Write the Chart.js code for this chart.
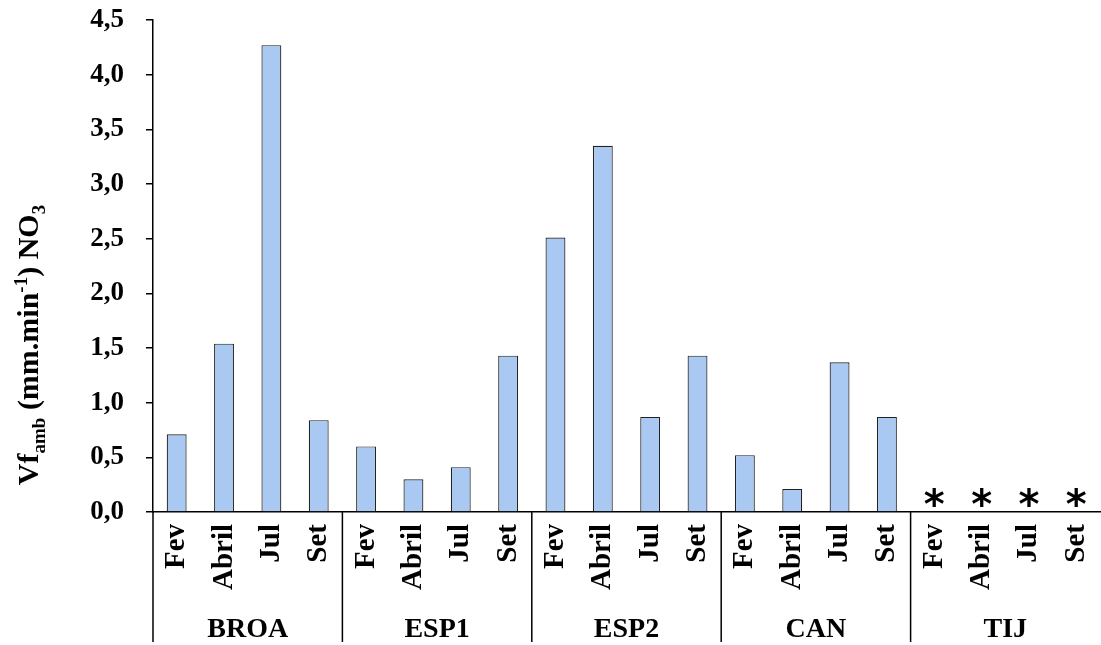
<!DOCTYPE html>
<html>
<head>
<meta charset="utf-8">
<script src="https://cdn.jsdelivr.net/npm/chart.js@4/dist/chart.umd.min.js"></script>
<style>
  html, body { margin: 0; padding: 0; background: #fff; }
  #wrap { width: 1101px; height: 645px; position: relative; }
</style>
</head>
<body>
<div id="wrap"><canvas id="vfChart"></canvas></div>
<script>
// data
const sites = ['BROA', 'ESP1', 'ESP2', 'CAN', 'TIJ'];
const months = ['Fev', 'Abril', 'Jul', 'Set'];
const broa = [0.71, 1.54, 4.27, 0.84];
const esp1 = [0.60, 0.30, 0.41, 1.43];
const esp2 = [2.51, 3.35, 0.87, 1.43];
const can  = [0.52, 0.21, 1.37, 0.87];
const tij  = [0, 0, 0, 0];
const tijMarks = ['*', '*', '*', '*'];   // not detected
const yTicks = [0, 0.5, 1, 1.5, 2, 2.5, 3, 3.5, 4, 4.5];

const labels = [];
sites.forEach(() => months.forEach(m => labels.push(m)));
const values = [].concat(broa, esp1, esp2, can, tij);
const marks = [].concat(['', '', '', ''], ['', '', '', ''], ['', '', '', ''], ['', '', '', ''], tijMarks);

const serif = '"Liberation Serif", "Times New Roman", serif';

// group labels + separators under the month labels
const groupPlugin = {
    id: 'groupLabels',
    afterDraw(chart) {
        const ctx = chart.ctx;
        const x = chart.scales.x;
        const area = chart.chartArea;
        const n = months.length;
        ctx.save();
        ctx.strokeStyle = '#000';
        ctx.lineWidth = 1.5;
        ctx.beginPath();
        ctx.moveTo(area.left, area.bottom);
        ctx.lineTo(area.left, 642);
        for (let g = 1; g < sites.length; g++) {
            const px = (x.getPixelForValue(g * n - 1) + x.getPixelForValue(g * n)) / 2;
            ctx.moveTo(px, area.bottom);
            ctx.lineTo(px, 642);
        }
        ctx.stroke();

        ctx.fillStyle = '#000';
        ctx.font = 'bold 28px ' + serif;
        ctx.textAlign = 'center';
        ctx.textBaseline = 'alphabetic';
        sites.forEach((s, g) => {
            const cx = (x.getPixelForValue(g * n) + x.getPixelForValue(g * n + n - 1)) / 2;
            ctx.fillText(s, cx, 637);
        });

        // asterisks for missing values
        ctx.font = 'bold 40px "DejaVu Sans", sans-serif';
        marks.forEach((m, i) => {
            if (!m) return;
            const mt = ctx.measureText(m);
            const h = mt.actualBoundingBoxAscent + mt.actualBoundingBoxDescent;
            const base = 497 + h / 2 - mt.actualBoundingBoxDescent;
            ctx.fillText(m, x.getPixelForValue(i), base);
        });
        ctx.restore();
    }
};

// rotated y title with sub/superscripts
const yTitlePlugin = {
    id: 'yTitle',
    afterDraw(chart) {
        const ctx = chart.ctx;
        const big = 'bold 30px ' + serif;
        const small = 'bold 19px ' + serif;
        const parts = [
            { t: 'Vf', f: big, dy: 0 },
            { t: 'amb', f: small, dy: 7 },
            { t: ' (mm.min', f: big, dy: 0 },
            { t: '-1', f: small, dy: -11 },
            { t: ') NO', f: big, dy: 0 },
            { t: '3', f: small, dy: 7 }
        ];
        ctx.save();
        let total = 0;
        parts.forEach(p => { ctx.font = p.f; p.w = ctx.measureText(p.t).width; total += p.w; });
        ctx.translate(38, 345);
        ctx.rotate(-Math.PI / 2);
        ctx.fillStyle = '#000';
        ctx.textBaseline = 'alphabetic';
        ctx.textAlign = 'left';
        let cx = -total / 2;
        parts.forEach(p => {
            ctx.font = p.f;
            ctx.fillText(p.t, cx, p.dy);
            cx += p.w;
        });
        ctx.restore();
    }
};

new Chart(document.getElementById('vfChart'), {
    type: 'bar',
    data: {
        labels: labels,
        datasets: [{
            data: values,
            backgroundColor: '#a9c9f2',
            borderColor: '#222',
            borderWidth: 1.2,
            categoryPercentage: 1,
            barPercentage: 0.42
        }]
    },
    options: {
        responsive: true,
        maintainAspectRatio: false,
        animation: false,
        layout: { padding: { top: 20, right: 1, left: 0, bottom: 0 } },
        plugins: {
            legend: { display: false },
            tooltip: { enabled: false }
        },
        scales: {
            x: {
                offset: true,
                grid: { display: false, drawTicks: false },
                border: { display: true, color: '#000', width: 1.5 },
                ticks: {
                    autoSkip: false,
                    minRotation: 90,
                    maxRotation: 90,
                    padding: 12,
                    color: '#000',
                    font: { family: serif, size: 29, weight: 'bold' }
                },
                afterFit(scale) {
                    scale.height = 133;
                    scale.paddingTop = 0;
                    scale.paddingLeft = 0;
                    scale.paddingRight = 0;
                }
            },
            y: {
                min: 0,
                max: 4.5,
                afterBuildTicks(scale) { scale.ticks = yTicks.map(v => ({ value: v })); },
                ticks: {
                    padding: 22,
                    color: '#000',
                    font: { family: serif, size: 27, weight: 'bold' },
                    callback: v => v.toFixed(1).replace('.', ',')
                },
                grid: { drawOnChartArea: false, drawTicks: true, tickLength: 7, color: '#000', lineWidth: 1.5 },
                border: { color: '#000', width: 1.5 },
                afterFit(scale) {
                    scale.width = 153;
                    scale.paddingTop = 0;
                    scale.paddingBottom = 0;
                }
            }
        }
    },
    plugins: [groupPlugin, yTitlePlugin]
});
</script>
</body>
</html>
